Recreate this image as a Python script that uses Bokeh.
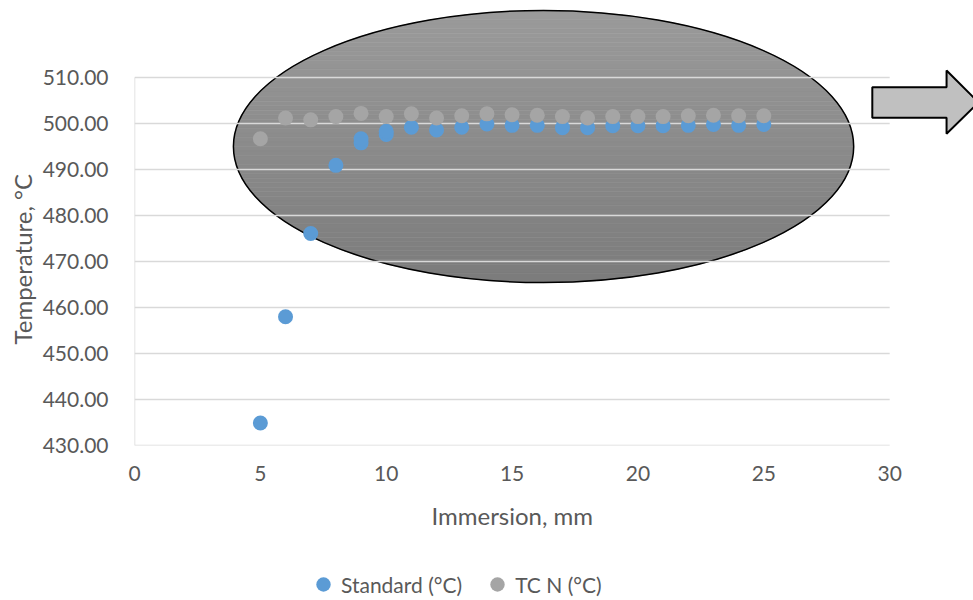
import numpy as np
from bokeh.plotting import figure
from bokeh.layouts import column
from bokeh.models import Range1d, FixedTicker, NumeralTickFormatter, Legend, LegendItem, Title
from bokeh.embed import file_html
from bokeh.resources import INLINE

# ---- data ----
immersion_standard = [5, 6, 7, 8, 9, 9, 10, 10, 11, 12, 13, 14, 15, 16, 17, 18, 19, 20, 21, 22, 23, 24, 25]
standard = [434.9, 458.0, 476.1, 490.9, 495.8, 496.7, 497.6, 498.3, 499.2, 498.6, 499.2, 499.9, 499.6,
            499.6, 499.1, 499.1, 499.5, 499.5, 499.5, 499.6, 499.8, 499.6, 499.8]
immersion_tcn = [5, 6, 7, 8, 9, 10, 11, 12, 13, 14, 15, 16, 17, 18, 19, 20, 21, 22, 23, 24, 25]
tcn = [496.7, 501.2, 500.8, 501.5, 502.2, 501.5, 502.1, 501.2, 501.7, 502.1, 501.9, 501.8,
       501.5, 501.2, 501.5, 501.5, 501.5, 501.7, 501.8, 501.7, 501.7]
x_ticks = [0, 5, 10, 15, 20, 25, 30]
y_ticks = [430, 440, 450, 460, 470, 480, 490, 500, 510]
series_names = ["Standard (°C)", "TC N (°C)"]
series_colors = ["#5b9bd5", "#a5a5a5"]
x_title = "Immersion, mm"
y_title = "Temperature, °C"

# ---- decoration geometry (highlight ellipse and arrow, in data units) ----
ELL_CX, ELL_CY, ELL_A, ELL_B = 16.25, 495.0, 12.32, 29.57
ARROW_X = [29.31, 32.26, 32.26, 33.53, 32.26, 32.26, 29.31]
ARROW_Y = [507.89, 507.89, 511.52, 504.57, 497.76, 501.24, 501.24]

FONT = "Lato"
TXT = "#595959"
GRID = "#d9d9d9"

p = figure(width=973, height=545, x_range=Range1d(0, 33.33), y_range=Range1d(430, 526.74),
           output_backend="svg", toolbar_location=None,
           min_border_left=134, min_border_right=0, min_border_top=0, min_border_bottom=100)
p.outline_line_color = None
p.xgrid.visible = False
p.ygrid.visible = False

# gradient ellipse built from horizontal bands
nb = 60
edges = np.linspace(ELL_CY + ELL_B, ELL_CY - ELL_B, nb + 1)
top_c = np.array([155, 155, 155])
bot_c = np.array([124, 124, 124])
xs, ys, cols = [], [], []
for i in range(nb):
    y1, y2 = edges[i], edges[i + 1]
    yy = np.linspace(y1, y2, 6)
    half = ELL_A * np.sqrt(np.clip(1 - ((yy - ELL_CY) / ELL_B) ** 2, 0, 1))
    xs.append(list(ELL_CX - half) + list((ELL_CX + half)[::-1]))
    ys.append(list(yy) + list(yy[::-1]))
    t = (i + 0.5) / nb
    c = (top_c * (1 - t) + bot_c * t).astype(int)
    cols.append("#%02x%02x%02x" % tuple(c))
p.patches(xs=xs, ys=ys, fill_color=cols, line_color=cols, line_width=0.6)
p.ellipse(x=[ELL_CX], y=[ELL_CY], width=[2 * ELL_A], height=[2 * ELL_B], fill_color=None,
          line_color="black", line_width=1.5)

# gridlines and axis lines (limited to data area 0..30, 430..510)
n = len(y_ticks) - 1
p.segment(x0=[x_ticks[0]] * n, y0=y_ticks[1:], x1=[x_ticks[-1]] * n, y1=y_ticks[1:],
          line_color=GRID, line_width=1.5)
p.segment(x0=[x_ticks[0], x_ticks[0]], y0=[y_ticks[0], y_ticks[0]],
          x1=[x_ticks[-1], x_ticks[0]], y1=[y_ticks[0], y_ticks[-1]],
          line_color=GRID, line_width=1.5)

# arrow
p.patch(ARROW_X, ARROW_Y, fill_color="#c0c0c0", line_color="black", line_width=2)

# data series
p.scatter(x=immersion_standard, y=standard, marker="circle", size=15,
          fill_color=series_colors[0], line_color=None)
p.scatter(x=immersion_tcn, y=tcn, marker="circle", size=15,
          fill_color=series_colors[1], line_color=None)

# axes
p.xaxis.ticker = FixedTicker(ticks=x_ticks)
p.yaxis.ticker = FixedTicker(ticks=y_ticks)
p.yaxis.formatter = NumeralTickFormatter(format="0.00")
for ax in (p.xaxis[0], p.yaxis[0]):
    ax.axis_line_color = None
    ax.major_tick_line_color = None
    ax.minor_tick_line_color = None
    ax.major_label_text_font = FONT
    ax.major_label_text_font_size = "21px"
    ax.major_label_text_color = TXT
p.xaxis.major_label_standoff = 14
p.yaxis.major_label_standoff = 20

# axis titles, centred on the 0..30 / 430..510 data area as in the reference
p.add_layout(Title(text=x_title, align="left", offset=297, standoff=30,
                   text_font=FONT, text_font_size="24px", text_font_style="normal",
                   text_color=TXT), "below")
p.add_layout(Title(text=y_title, align="left", offset=101, standoff=6,
                   text_font=FONT, text_font_size="24px", text_font_style="normal",
                   text_color=TXT), "left")

# legend strip
p2 = figure(width=973, height=55, x_range=Range1d(0, 1), y_range=Range1d(0, 1),
            output_backend="svg", toolbar_location=None, min_border=0)
p2.outline_line_color = None
p2.axis.visible = False
p2.grid.visible = False
lr = [p2.scatter(x=[-5], y=[-5], marker="circle", size=15, fill_color=c, line_color=None)
      for c in series_colors]
legend = Legend(items=[LegendItem(label=n_, renderers=[r]) for n_, r in zip(series_names, lr)],
                orientation="horizontal", location=(171, -2),
                label_text_font=FONT, label_text_font_size="21px", label_text_color=TXT,
                glyph_width=36, glyph_height=36, label_standoff=0, spacing=17,
                border_line_color=None, background_fill_alpha=0, margin=0, padding=0)
p2.add_layout(legend)

open("out.html", "w").write(file_html(column(p, p2), INLINE))
